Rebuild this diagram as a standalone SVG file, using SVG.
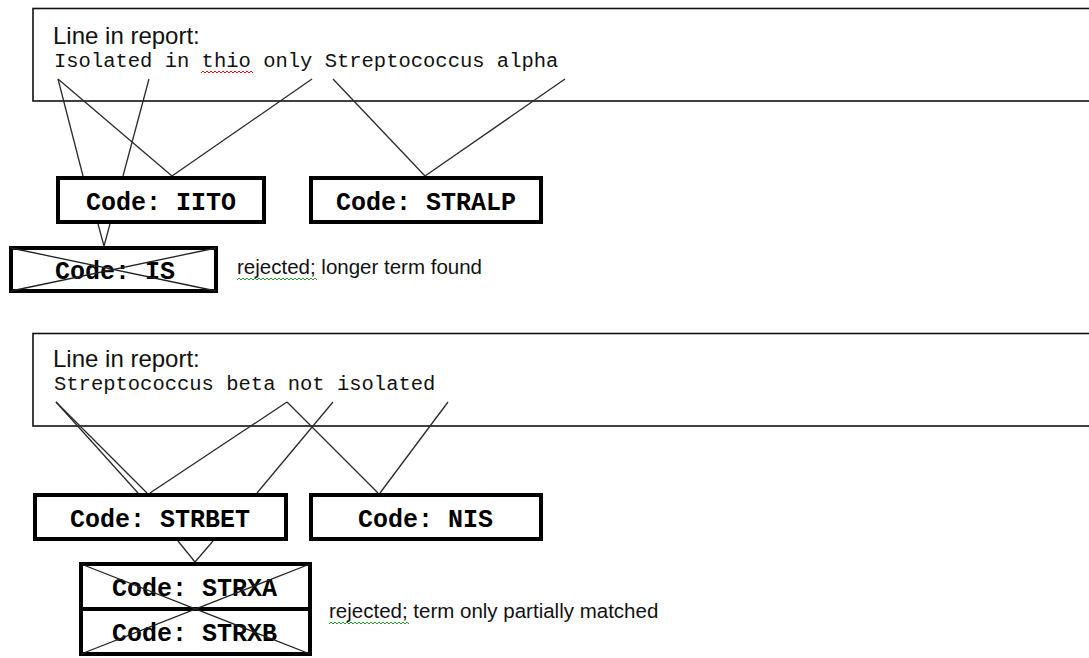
<svg xmlns="http://www.w3.org/2000/svg" width="1089" height="658" viewBox="0 0 1089 658">
  <style>
    .report { fill: #fff; stroke: #111; stroke-width: 1.6; }
    .heading { font-family: "Liberation Sans", Arial, sans-serif; font-size: 24px; fill: #111; }
    .source { font-family: "Liberation Mono", "Courier New", monospace; font-size: 20.5px; fill: #111; }
    .code rect { fill: #fff; stroke: #000; stroke-width: 4; }
    .code text { font-family: "Liberation Mono", "Courier New", monospace; font-size: 25px; font-weight: bold; fill: #000; }
    .strike { stroke: #222; stroke-width: 1.3; fill: none; }
    .note { font-family: "Liberation Sans", Arial, sans-serif; font-size: 20.5px; fill: #111; }
    .wave-red { fill: none; stroke: #e01010; stroke-width: 1; }
    .wave-green { fill: none; stroke: #2a9a2a; stroke-width: 1; }
    #connectors line { stroke: #2a2a2a; stroke-width: 1.3; }
  </style>

  <!-- first report line -->
  <g id="report-1">
    <rect class="report" x="33" y="8.5" width="1070" height="92.5"/>
    <text class="heading" x="53" y="44">Line in report:</text>
    <text class="source" x="54" y="67">Isolated in thio only Streptococcus alpha</text>
    <path class="wave-red" d="M201,73 l2,-2 2,2 2,-2 2,2 2,-2 2,2 2,-2 2,2 2,-2 2,2 2,-2 2,2 2,-2 2,2 2,-2 2,2 2,-2 2,2 2,-2 2,2 2,-2 2,2 2,-2 2,2 2,-2 2,2"/>
  </g>

  <!-- second report line -->
  <g id="report-2">
    <rect class="report" x="33" y="333.5" width="1070" height="92.5"/>
    <text class="heading" x="53" y="367">Line in report:</text>
    <text class="source" x="54" y="390">Streptococcus beta not isolated</text>
  </g>

  <!-- word-to-code links -->
  <g id="connectors">
    <line x1="58" y1="79" x2="83" y2="176"/>
    <line x1="58" y1="79" x2="172" y2="176"/>
    <line x1="149" y1="79" x2="123" y2="176"/>
    <line x1="312" y1="79" x2="172" y2="176"/>
    <line x1="333" y1="79" x2="425" y2="176"/>
    <line x1="565" y1="79" x2="425" y2="176"/>
    <line x1="98" y1="224" x2="104" y2="246"/>
    <line x1="110" y1="224" x2="104" y2="246"/>

    <line x1="56" y1="402" x2="138" y2="493"/>
    <line x1="56" y1="402" x2="147" y2="493"/>
    <line x1="287" y1="402" x2="150" y2="493"/>
    <line x1="287" y1="402" x2="378" y2="493"/>
    <line x1="333" y1="402" x2="257" y2="493"/>
    <line x1="448" y1="402" x2="380" y2="493"/>
    <line x1="178" y1="541" x2="195" y2="562"/>
    <line x1="213" y1="541" x2="195" y2="562"/>
  </g>

  <g id="code-iito" class="code">
    <rect x="58" y="178" width="206" height="44"/>
    <text x="86" y="209.5">Code: IITO</text>
  </g>

  <g id="code-stralp" class="code">
    <rect x="311" y="178" width="230" height="44"/>
    <text x="336" y="209.5">Code: STRALP</text>
  </g>

  <g id="code-is" class="code">
    <rect x="11" y="248" width="205" height="43"/>
    <text x="55" y="279">Code: IS</text>
    <line class="strike" x1="11" y1="248" x2="216" y2="291"/>
    <line class="strike" x1="216" y1="248" x2="11" y2="291"/>
  </g>

  <g id="note-1">
    <text class="note" x="237" y="274">rejected; longer term found</text>
    <path class="wave-green" d="M237,280 l2,-2 2,2 2,-2 2,2 2,-2 2,2 2,-2 2,2 2,-2 2,2 2,-2 2,2 2,-2 2,2 2,-2 2,2 2,-2 2,2 2,-2 2,2 2,-2 2,2 2,-2 2,2 2,-2 2,2 2,-2 2,2 2,-2 2,2 2,-2 2,2 2,-2 2,2 2,-2 2,2 2,-2 2,2 2,-2 2,2"/>
  </g>

  <g id="code-strbet" class="code">
    <rect x="35" y="495" width="251" height="44"/>
    <text x="70" y="527">Code: STRBET</text>
  </g>

  <g id="code-nis" class="code">
    <rect x="311" y="495" width="230" height="44"/>
    <text x="358" y="527">Code: NIS</text>
  </g>

  <g id="code-strxa" class="code">
    <rect x="81" y="564" width="229" height="45"/>
    <text x="112" y="596">Code: STRXA</text>
  </g>

  <g id="code-strxb" class="code">
    <rect x="81" y="609" width="229" height="45"/>
    <text x="112" y="641">Code: STRXB</text>
  </g>

  <!-- both partial matches struck out together -->
  <g id="strike-strx">
    <line class="strike" x1="81" y1="564" x2="310" y2="654"/>
    <line class="strike" x1="310" y1="564" x2="81" y2="654"/>
  </g>

  <g id="note-2">
    <text class="note" x="329" y="618">rejected; term only partially matched</text>
    <path class="wave-green" d="M329,624 l2,-2 2,2 2,-2 2,2 2,-2 2,2 2,-2 2,2 2,-2 2,2 2,-2 2,2 2,-2 2,2 2,-2 2,2 2,-2 2,2 2,-2 2,2 2,-2 2,2 2,-2 2,2 2,-2 2,2 2,-2 2,2 2,-2 2,2 2,-2 2,2 2,-2 2,2 2,-2 2,2 2,-2 2,2 2,-2 2,2"/>
  </g>
</svg>
